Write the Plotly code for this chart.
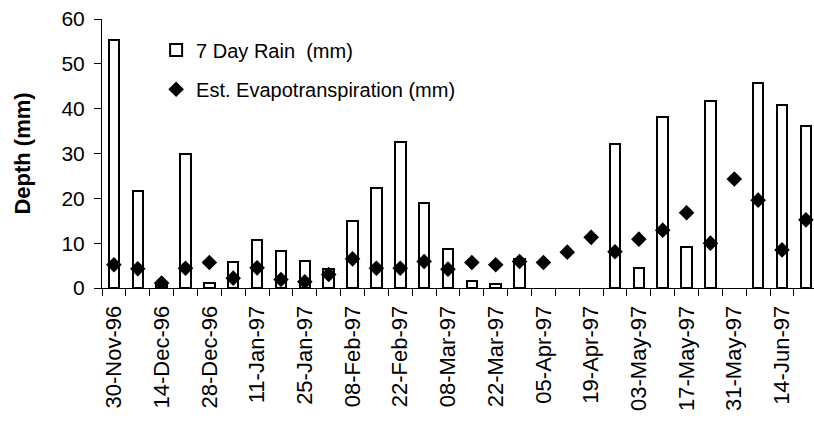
import plotly.graph_objects as go

weeks = ["30-Nov-96", "07-Dec-96", "14-Dec-96", "21-Dec-96", "28-Dec-96",
         "04-Jan-97", "11-Jan-97", "18-Jan-97", "25-Jan-97", "01-Feb-97",
         "08-Feb-97", "15-Feb-97", "22-Feb-97", "01-Mar-97", "08-Mar-97",
         "15-Mar-97", "22-Mar-97", "29-Mar-97", "05-Apr-97", "12-Apr-97",
         "19-Apr-97", "26-Apr-97", "03-May-97", "10-May-97", "17-May-97",
         "24-May-97", "31-May-97", "07-Jun-97", "14-Jun-97", "21-Jun-97"]

rain_mm = [55.3, 21.7, 1.0, 29.8, 1.2, 5.9, 10.7, 8.3, 6.1, 4.2,
           15.0, 22.2, 32.5, 18.9, 8.7, 1.6, 0.9, 6.5, None, None,
           None, 32.1, 4.4, 38.1, 9.2, 41.7, None, 45.7, 40.8, 36.2]

et_mm = [5.2, 4.3, 1.1, 4.4, 5.7, 2.2, 4.5, 1.9, 1.4, 3.0,
         6.5, 4.4, 4.4, 5.9, 4.2, 5.7, 5.2, 5.9, 5.7, 8.0,
         11.3, 8.1, 10.9, 12.9, 16.8, 10.0, 24.3, 19.6, 8.5, 15.2]

y_ticks = [0, 10, 20, 30, 40, 50, 60]

FONT = "Arial, 'Liberation Sans', sans-serif"
xpos = list(range(len(weeks)))

fig = go.Figure()
fig.add_trace(go.Bar(
    x=xpos, y=rain_mm, name="7 Day Rain \u00a0(mm)", width=0.44,
    marker=dict(color="white", line=dict(color="black", width=2)),
    legend="legend", showlegend=True, hoverinfo="skip"))
fig.add_trace(go.Scatter(
    x=xpos, y=et_mm, name="Est. Evapotranspiration (mm)", mode="markers",
    marker=dict(symbol="diamond", size=12, color="black"),
    legend="legend2", showlegend=True, hoverinfo="skip"))

fig.update_layout(
    width=814, height=422, autosize=False,
    margin=dict(l=102, r=0, t=19, b=134),
    plot_bgcolor="white", paper_bgcolor="white",
    font=dict(family=FONT, color="black"),
    showlegend=True,
    bargap=0,
    legend=dict(x=0.076, y=0.885, xanchor="left", yanchor="middle",
                bgcolor="rgba(0,0,0,0)", font=dict(size=20, family=FONT)),
    legend2=dict(x=0.076, y=0.739, xanchor="left", yanchor="middle",
                 bgcolor="rgba(0,0,0,0)", font=dict(size=20, family=FONT)),
    xaxis=dict(
        range=[-0.5, 29.34], tickmode="array",
        tickvals=xpos[::2], ticktext=weeks[::2],
        ticks="", tickangle=-90, tickfont=dict(size=22, family=FONT),
        ticklabelstandoff=8,
        showline=True, linecolor="black", linewidth=1,
        showgrid=False, zeroline=False,
        minor=dict(tickmode="array",
                   tickvals=[i - 0.5 for i in range(len(weeks) + 1)],
                   ticks="outside", ticklen=7, tickcolor="black", tickwidth=1,
                   showgrid=False)),
    yaxis=dict(
        range=[0, 60], tickmode="array", tickvals=y_ticks,
        ticks="outside", ticklen=7, tickcolor="black",
        tickfont=dict(size=21, family=FONT), ticklabelstandoff=5,
        showline=True, linecolor="black", linewidth=1,
        showgrid=False, zeroline=False,
        title=dict(text="<b>Depth (mm)</b>", font=dict(size=22, family=FONT),
                   standoff=24)),
)

fig.write_html("out.html")
